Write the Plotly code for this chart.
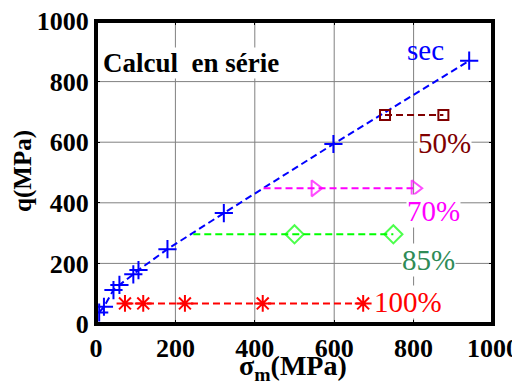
import plotly.graph_objects as go

# ---- data ----
sec_x = [8, 20, 44, 59, 94, 107, 180, 322, 598, 940]
sec_q = [38, 57, 112, 129, 164, 178, 247, 366, 594, 869]

p50_x = [728, 875]
p50_q = [690, 690]

p70_start = 422
p70_x = [552, 804]
p70_q = 448

p85_start = 245
p85_x = [500, 749]
p85_q = 296

p100_x = [73, 119, 224, 420, 673]
p100_q = [68, 68, 68, 68, 68]

tick_vals = [0, 200, 400, 600, 800, 1000]
tick_text = ["0", "200", "400", "600", "800", "1000"]

labels = ["sec", "50%", "70%", "85%", "100%"]
label_x = [831, 877, 849, 837, 785]
label_q = [905, 596, 372, 212, 74]
label_colors = ["#0000FF", "#800000", "#FF00FF", "#2E8B57", "#FF0000"]

SERIF = "Liberation Serif, Times New Roman, serif"
DASH = "7px,4px"
GRID = "#808080"
lo, hi = tick_vals[0], tick_vals[-1]

fig = go.Figure()

# grid lines built from the tick values
gx, gy = [], []
for v in tick_vals[1:-1]:
    gx += [v, v, None, lo, hi, None]
    gy += [lo, hi, None, v, v, None]
fig.add_trace(go.Scatter(x=gx, y=gy, mode="lines", line=dict(color=GRID, width=1),
                         hoverinfo="skip", showlegend=False))

fig.add_trace(go.Scatter(
    x=sec_x, y=sec_q, mode="lines+markers",
    line=dict(color="#0000FF", width=2, dash=DASH),
    marker=dict(symbol="cross-thin-open", size=13, color="#0000FF",
                line=dict(color="#0000FF", width=2)),
    showlegend=False))

fig.add_trace(go.Scatter(
    x=p50_x, y=p50_q, mode="lines+markers",
    line=dict(color="#800000", width=2, dash=DASH),
    marker=dict(symbol="square-open", size=10, color="#800000",
                line=dict(color="#800000", width=2)),
    showlegend=False))

fig.add_trace(go.Scatter(
    x=[p70_start] + p70_x, y=[p70_q] * (len(p70_x) + 1), mode="lines+markers",
    line=dict(color="#FF00FF", width=2, dash=DASH),
    marker=dict(symbol="triangle-right-open", size=[0] + [14] * len(p70_x),
                color="#FF00FF", line=dict(color="#FF00FF", width=2)),
    showlegend=False))

fig.add_trace(go.Scatter(
    x=[p85_start] + p85_x, y=[p85_q] * (len(p85_x) + 1), mode="lines+markers",
    line=dict(color="#00FF00", width=2, dash=DASH),
    marker=dict(symbol="diamond-open", size=[0] + [14] * len(p85_x),
                color="#00FF00", line=dict(color="#00FF00", width=2)),
    showlegend=False))

fig.add_trace(go.Scatter(
    x=p100_x, y=p100_q, mode="lines+markers",
    line=dict(color="#FF0000", width=2, dash=DASH),
    marker=dict(symbol="asterisk-open", size=14, color="#FF0000",
                line=dict(color="#FF0000", width=2)),
    showlegend=False))

# box around the plot area
fig.add_trace(go.Scatter(x=[lo, hi, hi, lo, lo], y=[lo, lo, hi, hi, lo], mode="lines",
                         line=dict(color="black", width=4), hoverinfo="skip",
                         showlegend=False))

for t, lx, lq, c in zip(labels, label_x, label_q, label_colors):
    fig.add_annotation(x=lx, y=lq, xref="x", yref="y", text=t, showarrow=False,
                       font=dict(family=SERIF, size=29, color=c),
                       bgcolor="white" if t != "sec" else "rgba(0,0,0,0)",
                       xanchor="center", yanchor="middle", borderpad=0)

fig.add_annotation(x=15, y=861, xref="x", yref="y", text="Calcul\u00a0 en série",
                   showarrow=False, xanchor="left", yanchor="middle",
                   font=dict(family=SERIF, size=27, color="black", weight="bold"),
                   bgcolor="white", borderpad=0)

# axis titles as annotations
fig.add_annotation(x=496, y=-0.142, xref="x", yref="paper",
                   text="σ<sub>m</sub>(MPa)", showarrow=False,
                   xanchor="center", yanchor="middle",
                   font=dict(family=SERIF, size=28, color="black", weight="bold"))
fig.add_annotation(x=-0.184, y=0.505, xref="paper", yref="paper",
                   text="q(MPa)", showarrow=False, textangle=-90,
                   xanchor="center", yanchor="middle",
                   font=dict(family=SERIF, size=25, color="black", weight="bold"))

axis_common = dict(
    range=[lo, hi], tickvals=tick_vals, ticktext=tick_text,
    showgrid=False,
    showline=True, linecolor="black", linewidth=2, mirror="ticks",
    ticks="inside", ticklen=4, tickcolor="black", tickwidth=1,
    tickfont=dict(family=SERIF, size=26, color="black", weight="bold"),
    ticklabeloverflow="allow",
    zeroline=False, fixedrange=True, automargin=False,
)

fig.update_xaxes(**axis_common)
fig.update_yaxes(**axis_common)

# the page body adds an 8px offset, so the figure is shifted accordingly
fig.update_layout(
    width=512, height=381,
    margin=dict(l=88, r=27, t=13, b=65),
    plot_bgcolor="white", paper_bgcolor="white",
)

fig.write_html("out.html")
